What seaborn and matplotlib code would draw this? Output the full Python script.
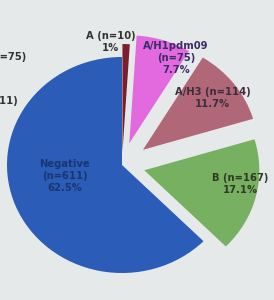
import matplotlib
matplotlib.use("Agg")
import matplotlib.pyplot as plt
import seaborn as sns

# data
categories = ['Negative', 'B', 'A/H3', 'A/H1pdm09', 'A']
counts = [611, 167, 114, 75, 10]
percent_labels = ['62.5%', '17.1%', '11.7%', '7.7%', '1%']

sns.set_style("white")
plt.rcParams['font.family'] = ['DejaVu Sans']

colors = ['#2a5cb8', '#78b062', '#b06878', '#e36ade', '#7a1f2e']
explode = [0, 0.2, 0.23, 0.21, 0.12]
bg = '#e6e9ea'

fig = plt.figure(figsize=(2.74, 3.0), dpi=100, facecolor=bg)
ax = fig.add_axes([0, 0, 1, 1])
ax.set_facecolor(bg)

ax.pie(counts, colors=colors, explode=explode, startangle=90,
       counterclock=True, radius=1.0,
       wedgeprops=dict(linewidth=0))

# the photo is slightly stretched horizontally
ax.set_aspect('auto')
ax.set_xlim(-122 / 115, 152 / 115)
ax.set_ylim(-135 / 108, 165 / 108)
ax.axis('off')

# label text, placed as on the slide
label_pos = {
    'Negative': (-0.50, -0.10),
    'B': (1.03, -0.18),
    'A/H3': (0.79, 0.62),
    'A/H1pdm09': (0.47, 0.99),
    'A': (-0.10, 1.14),
}
label_colors = {
    'Negative': '#1c3570',
    'B': '#2e3a24',
    'A/H3': '#3e2c3c',
    'A/H1pdm09': '#3a2c66',
    'A': '#333333',
}
for cat, n, pct in zip(categories, counts, percent_labels):
    if cat in ('Negative', 'A/H1pdm09'):
        txt = f"{cat}\n(n={n})\n{pct}"
    else:
        txt = f"{cat} (n={n})\n{pct}"
    x, y = label_pos[cat]
    ax.text(x, y, txt, ha='center', va='center', fontsize=7.2,
            fontweight='bold', color=label_colors[cat], linespacing=1.25)

# cut-off labels of the neighbouring chart on the slide
ax.text(-0.835, 1.0, 'A/H1pdm09 (n=75)', ha='right', va='center',
        fontsize=7.2, fontweight='bold', color='#333333')
ax.text(-0.904, 0.59, 'Negative (n=611)', ha='right', va='center',
        fontsize=7.2, fontweight='bold', color='#333333')

fig.savefig('out.png', dpi=100, facecolor=bg)
